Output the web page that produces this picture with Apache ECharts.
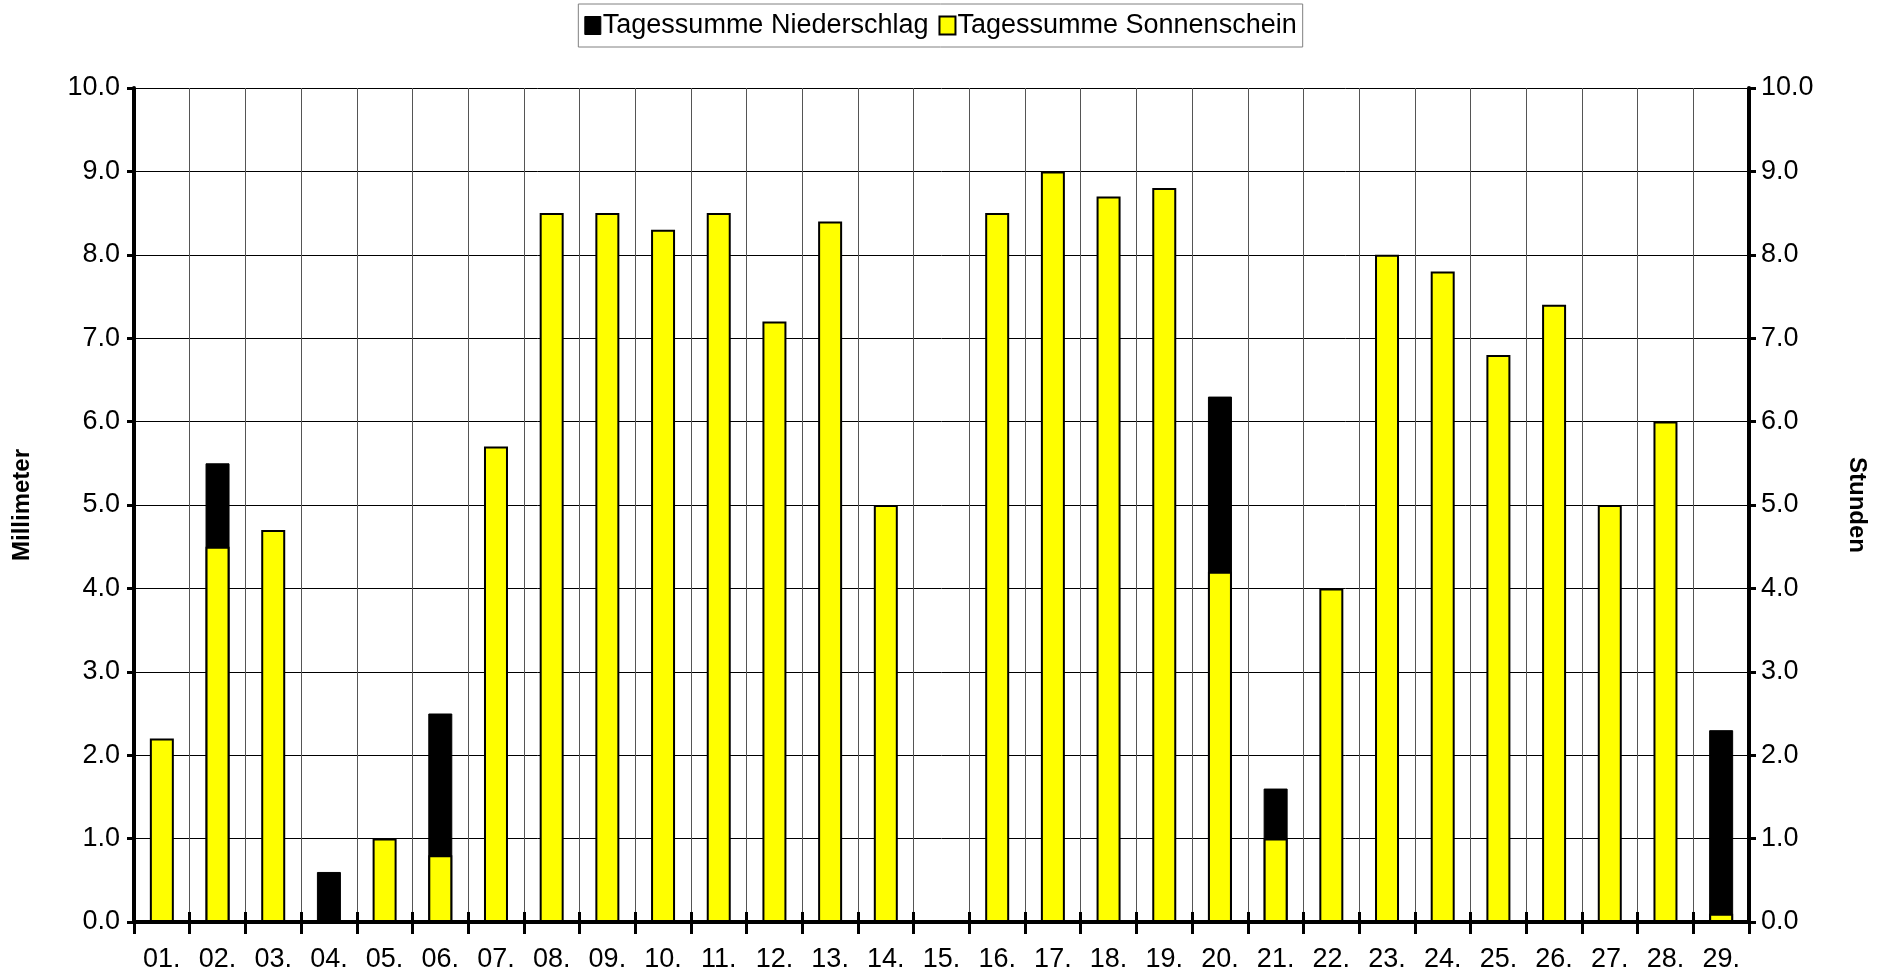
<!DOCTYPE html>
<html><head><meta charset="utf-8">
<script src="https://cdn.jsdelivr.net/npm/echarts@6/dist/echarts.min.js"></script>
<style>html,body{margin:0;padding:0;background:#fff}#c{width:1881px;height:973px}</style>
</head><body><div id="c"></div>
<script>
const days = ['01.','02.','03.','04.','05.','06.','07.','08.','09.','10.','11.','12.','13.','14.','15.','16.','17.','18.','19.','20.','21.','22.','23.','24.','25.','26.','27.','28.','29.'];
const niederschlag = [0,5.5,0,0.6,0,2.5,0,0,0,0,0,0,0,0,0,0,0,0,0,6.3,1.6,0,0,0,0,0,0,0,2.3];
const sonnenschein = [2.2,4.5,4.7,0,1.0,0.8,5.7,8.5,8.5,8.3,8.5,7.2,8.4,5.0,0,8.5,9.0,8.7,8.8,4.2,1.0,4.0,8.0,7.8,6.8,7.4,5.0,6.0,0.1];
const font = 'Liberation Sans, Arial, sans-serif';
const chart = echarts.init(document.getElementById('c'));
chart.setOption({
  animation: false,
  textStyle: {fontFamily: font, color: '#000'},
  legend: {
    top: 4, left: 'center',
    data: [
      {name: 'Tagessumme Niederschlag', itemStyle: {color: '#000', borderColor: '#000', borderWidth: 1}},
      {name: 'Tagessumme Sonnenschein', itemStyle: {color: '#ffff00', borderColor: '#000', borderWidth: 2}}
    ],
    icon: 'rect', itemWidth: 16, itemHeight: 18, itemGap: 10,
    textStyle: {fontSize: 27, color: '#000', fontFamily: font, padding: [0,0,0,-3]},
    borderColor: '#808080', borderWidth: 1, padding: [8, 6, 8, 6], backgroundColor: '#fff'
  },
  grid: {left: 134, right: 132, top: 88, bottom: 51},
  xAxis: [{
    type: 'category', data: days, position: 'bottom',
    axisLine: {lineStyle: {color: '#000', width: 4}},
    axisTick: {show: true, length: 12, lineStyle: {color: '#000', width: 3}},
    axisLabel: {fontSize: 27, color: '#000', margin: 24, fontFamily: font},
    splitLine: {show: true, lineStyle: {color: '#555', width: 1}}
  }, {
    type: 'category', data: days, position: 'bottom', offset: 0,
    axisLine: {show: false},
    axisTick: {show: true, inside: true, length: 10, lineStyle: {color: '#000', width: 3}},
    axisLabel: {show: false}, splitLine: {show: false}
  }],
  yAxis: [{
    type: 'value', min: 0, max: 10, interval: 1, position: 'left',
    name: 'Millimeter', nameLocation: 'middle', nameGap: 100, nameRotate: 90,
    nameTextStyle: {fontSize: 24, fontWeight: 'bold', color: '#000', fontFamily: font},
    axisLine: {show: true, lineStyle: {color: '#000', width: 4}},
    axisTick: {show: true, length: 7, lineStyle: {color: '#000', width: 3}},
    axisLabel: {fontSize: 27, color: '#000', margin: 14, fontFamily: font, formatter: v => v.toFixed(1)},
    splitLine: {show: true, lineStyle: {color: '#000', width: 1}}
  }, {
    type: 'value', min: 0, max: 10, interval: 1, position: 'right',
    name: 'Stunden', nameLocation: 'middle', nameGap: 96, nameRotate: -90,
    nameTextStyle: {fontSize: 24, fontWeight: 'bold', color: '#000', fontFamily: font},
    axisLine: {show: true, lineStyle: {color: '#000', width: 4}},
    axisTick: {show: true, length: 7, lineStyle: {color: '#000', width: 3}},
    axisLabel: {fontSize: 27, color: '#000', margin: 12, fontFamily: font, formatter: v => v.toFixed(1)},
    splitLine: {show: false}
  }],
  series: [{
    name: 'Tagessumme Niederschlag', type: 'bar', data: niederschlag, yAxisIndex: 0,
    barWidth: 24, barGap: '-100%',
    itemStyle: {color: '#000', borderColor: '#000', borderWidth: 1}
  }, {
    name: 'Tagessumme Sonnenschein', type: 'bar', data: sonnenschein, yAxisIndex: 1,
    barWidth: 24, barGap: '-100%',
    itemStyle: {color: '#ffff00', borderColor: '#000', borderWidth: 2}
  }]
});
</script></body></html>
